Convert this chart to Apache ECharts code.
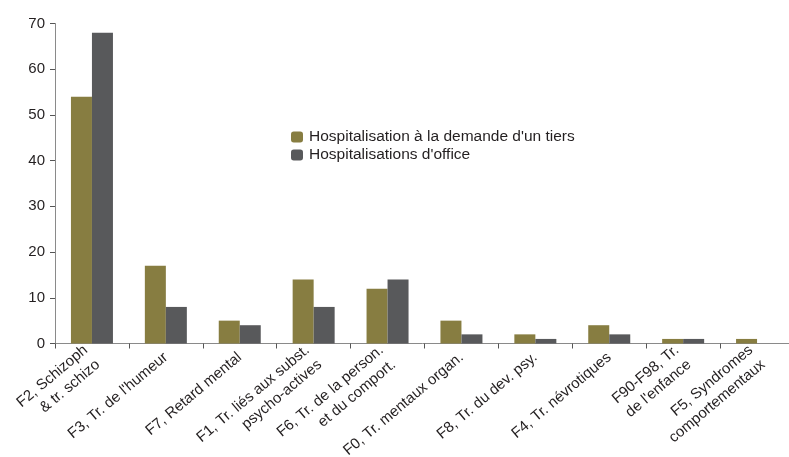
<!DOCTYPE html>
<html><head><meta charset="utf-8">
<script src="https://cdn.jsdelivr.net/npm/echarts@6/dist/echarts.min.js"></script>
<style>html,body{margin:0;padding:0;background:#fff}#c{width:789px;height:457px}</style>
</head><body><div id="c"></div>
<script>
const categories = [
  "F2, Schizoph\n& tr. schizo",
  "F3, Tr. de l'humeur",
  "F7, Retard mental",
  "F1, Tr. liés aux subst.\npsycho-actives",
  "F6, Tr. de la person.\net du comport.",
  "F0, Tr. mentaux organ.",
  "F8, Tr. du dev. psy.",
  "F4, Tr. névrotiques",
  "F90-F98, Tr.\nde l'enfance",
  "F5, Syndromes\ncomportementaux"
];
const seriesNames = ["Hospitalisation à la demande d'un tiers", "Hospitalisations d'office"];
const hdtValues = [54, 17, 5, 14, 12, 5, 2, 4, 1, 1];
const hoValues = [68, 8, 4, 8, 14, 2, 1, 2, 1, 0];
const yTicks = { min: 0, max: 70, interval: 10 };

const FONT = "'Liberation Sans', Arial, sans-serif";
const TXT = "#231f20";
const AX = "#8a8a8a";
const chart = echarts.init(document.getElementById('c'), null, { renderer: 'canvas' });
chart.setOption({
  animation: false,
  backgroundColor: '#fff',
  textStyle: { fontFamily: FONT },
  grid: { left: 55, right: -5, top: 23.5, bottom: 113.5, containLabel: false, outerBoundsMode: 'none' },
  legend: {
    orient: 'vertical', left: 286, top: 124,
    itemWidth: 12, itemHeight: 11, itemGap: 2,
    textStyle: { fontFamily: FONT, fontSize: 15.5, color: TXT, padding: [0, 0, 0, 1] },
    data: seriesNames
  },
  xAxis: {
    type: 'category', data: categories,
    axisLine: { lineStyle: { color: AX, width: 1 } },
    axisTick: { show: true, length: 5, lineStyle: { color: '#555' } },
    axisLabel: { interval: 0, rotate: 40, fontFamily: FONT, fontSize: 15, color: TXT, margin: 12, lineHeight: 19 }
  },
  yAxis: {
    type: 'value', min: yTicks.min, max: yTicks.max, interval: yTicks.interval,
    splitLine: { show: false },
    axisLine: { show: true, lineStyle: { color: AX, width: 1 } },
    axisTick: { show: true, length: 5, lineStyle: { color: '#555' } },
    axisLabel: { fontFamily: FONT, fontSize: 15, color: TXT, margin: 10 }
  },
  series: [
    { name: seriesNames[0], type: 'bar', data: hdtValues, barWidth: 21, barGap: '0%', itemStyle: { color: '#877d41' } },
    { name: seriesNames[1], type: 'bar', data: hoValues, barWidth: 21, barGap: '0%', itemStyle: { color: '#58595b' } }
  ]
});
</script></body></html>
